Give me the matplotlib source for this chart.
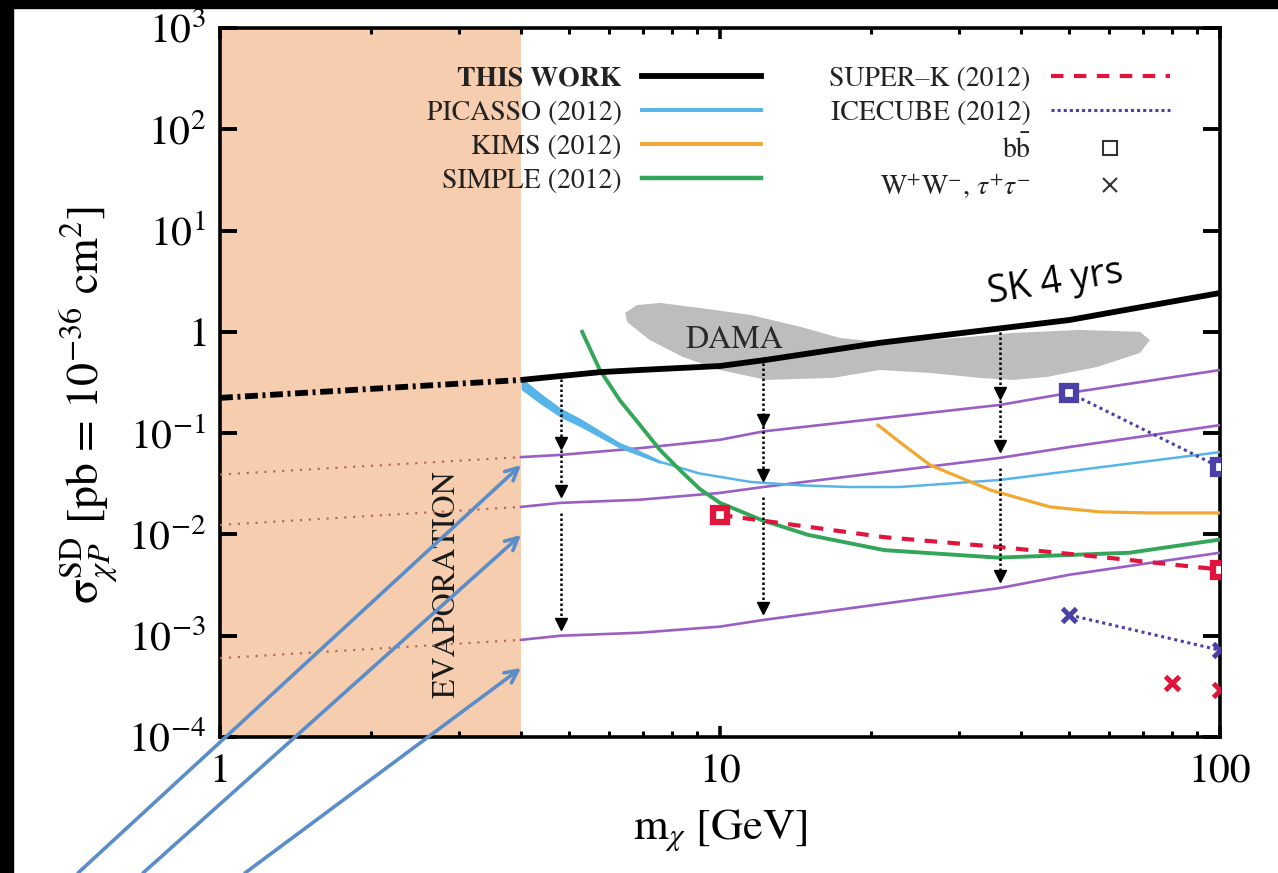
import numpy as np
import matplotlib
matplotlib.use("Agg")
import matplotlib.pyplot as plt
from matplotlib.lines import Line2D
from matplotlib.patches import Rectangle
from matplotlib.ticker import FixedLocator, FixedFormatter, NullLocator, LogLocator, NullFormatter

plt.rcParams['font.family'] = ['STIXGeneral', 'DejaVu Serif']
plt.rcParams['mathtext.fontset'] = 'stix'

# ---------------- data ----------------
evap_limit = 4.0  # GeV, below this WIMPs evaporate from the Sun

# this work (solid) and its extrapolation into the evaporation region
this_work_m = [4, 5.75, 6.9, 10, 12.4, 20.9, 38.5, 50, 100]
this_work_s = [0.335, 0.40, 0.42, 0.46, 0.53, 0.78, 1.12, 1.31, 2.42]
this_work_evap_m = [1, 4]
this_work_evap_s = [0.223, 0.335]

# projected sensitivities (purple)
proj_m = [4, 4.8, 6.9, 10, 12.2, 36.3, 50, 100]
proj_high = [0.058, 0.061, 0.071, 0.086, 0.104, 0.19, 0.25, 0.42]
proj_mid = [0.0187, 0.0205, 0.022, 0.0257, 0.0294, 0.057, 0.073, 0.12]
proj_low = [9.1e-4, 1.0e-3, 1.07e-3, 1.23e-3, 1.43e-3, 2.96e-3, 4.0e-3, 6.6e-3]
proj_evap_m = [1, 4]
proj_evap_high = [0.039, 0.058]
proj_evap_mid = [0.0124, 0.0187]
proj_evap_low = [6.0e-4, 9.1e-4]
arrow_masses = [4.8, 12.2, 36.3]

# PICASSO (2012)
picasso_m = [4, 4.37, 4.8, 5.25, 6.3, 6.9, 7.6, 9.1, 11.5, 14.5, 18.2, 22.9, 36.3, 57.5, 100]
picasso_s = [0.34, 0.24, 0.17, 0.135, 0.078, 0.065, 0.052, 0.040, 0.033, 0.0305,
             0.0294, 0.0294, 0.0345, 0.046, 0.065]
picasso_band_m = [4, 4.37, 4.8, 5.25, 6.3, 7.6]
picasso_band_lo = [0.27, 0.195, 0.143, 0.116, 0.071, 0.050]

# KIMS (2012)
kims_m = [20.7, 23, 26.3, 30, 34.7, 40, 45.7, 57.5, 72.4, 100]
kims_s = [0.12, 0.080, 0.0485, 0.037, 0.0275, 0.0225, 0.0187, 0.0167, 0.0163, 0.0163]

# SIMPLE (2012)
simple_m = [5.3, 5.75, 6.31, 6.92, 7.59, 8.32, 9.12, 10, 12.1, 15, 21.3, 36, 66, 100]
simple_s = [1.0, 0.42, 0.21, 0.12, 0.068, 0.043, 0.028, 0.0205, 0.0139, 0.0099,
            0.0070, 0.0059, 0.0066, 0.0089]

# SUPER-K (2012)
sk_bb_m = [10, 21.3, 36.3, 57.5, 100]
sk_bb_s = [0.0156, 0.0094, 0.0075, 0.0060, 0.0045]
sk_ww_m = [80, 100]
sk_ww_s = [3.4e-4, 2.9e-4]

# ICECUBE (2012)
ic_bb_m = [50, 100]
ic_bb_s = [0.25, 0.046]
ic_ww_m = [50, 100]
ic_ww_s = [1.6e-3, 7.2e-4]

# DAMA allowed region (closed contour)
dama_m = [6.46, 6.82, 7.59, 9.12, 11.5, 14.5, 17.4, 20.9, 26.3, 33.1, 38.5, 52.5, 69.2, 72.4,
          69.2, 56.8, 45.1, 38.5, 33.1, 26.3, 20.9, 16.8, 12.4, 10, 8.43, 7.24, 6.52]
dama_s = [1.54, 1.84, 1.93, 1.72, 1.47, 1.12, 0.87, 0.79, 0.83, 0.91, 0.975, 1.045, 1.0, 0.83,
          0.62, 0.45, 0.359, 0.335, 0.351, 0.393, 0.42, 0.351, 0.335, 0.42, 0.565, 0.83, 1.25]

y_ticks = [1e-4, 1e-3, 1e-2, 1e-1, 1, 1e1, 1e2, 1e3]
y_tick_labels = ['$10^{-4}$', '$10^{-3}$', '$10^{-2}$', '$10^{-1}$', '$1$',
                 '$10^{1}$', '$10^{2}$', '$10^{3}$']
x_ticks = [1, 10, 100]
x_tick_labels = ['1', '10', '100']

# ---------------- colours ----------------
C_EVAP = '#F6CEAF'
C_PICASSO = '#56B4E9'
C_KIMS = '#F0A830'
C_SIMPLE = '#33A65A'
C_PROJ = '#9A5EC4'
C_PROJ_EVAP = '#B66A5E'
C_SK = '#E0143C'
C_IC = '#4B3FA8'
C_DAMA = '#BDBDBD'
C_NOTE = '#5B8DC8'


def loginterp(x, xs, ys):
    return 10 ** np.interp(np.log10(x), np.log10(xs), np.log10(ys))


fig = plt.figure(figsize=(12.78, 8.73), dpi=100)
fig.patch.set_facecolor('white')
ax = fig.add_axes([220 / 1278, 1 - 737 / 873, 1000 / 1278, 709 / 873])
ax.set_xscale('log')
ax.set_yscale('log')
ax.set_xlim(1, 100)
ax.set_ylim(1e-4, 1e3)

# evaporation region
ax.axvspan(1, evap_limit, color=C_EVAP, lw=0, zorder=0)
ax.text(2.84, 3.2e-3, 'EVAPORATION', rotation=90, ha='center', va='center',
        fontsize=23, color='#1a1a1a', zorder=3)

# DAMA
ax.fill(dama_m, dama_s, color=C_DAMA, lw=0, zorder=1)
ax.text(10.7, 0.83, 'DAMA', ha='center', va='center', fontsize=23, color='#2a2a2a', zorder=2)

# projected sensitivities
for lvl_s, ev_s in [(proj_high, proj_evap_high), (proj_mid, proj_evap_mid), (proj_low, proj_evap_low)]:
    ax.plot(proj_m, lvl_s, color=C_PROJ, lw=1.9, zorder=4)
    ax.plot(proj_evap_m, ev_s, color=C_PROJ_EVAP, lw=1.6, ls=(0, (1, 3)), zorder=4)

# direct detection limits
ax.fill_between(picasso_band_m, picasso_band_lo,
                loginterp(np.array(picasso_band_m), picasso_m, picasso_s),
                color=C_PICASSO, lw=0, zorder=4)
ax.plot(picasso_m, picasso_s, color=C_PICASSO, lw=1.8, zorder=4)
ax.plot(kims_m, kims_s, color=C_KIMS, lw=2.3, zorder=4)
ax.plot(simple_m, simple_s, color=C_SIMPLE, lw=2.8, zorder=4)

# neutrino telescopes
ax.plot(sk_bb_m, sk_bb_s, color=C_SK, lw=3, ls=(0, (3, 2.5)), zorder=5)
ax.plot([sk_bb_m[0], sk_bb_m[-1]], [sk_bb_s[0], sk_bb_s[-1]], ls='none', marker='s', ms=10,
        mfc='white', mec=C_SK, mew=4.5, zorder=6)
ax.plot(sk_ww_m, sk_ww_s, ls='none', marker='x', ms=10, mec=C_SK, mew=3.5, zorder=6)
ax.plot(ic_bb_m, ic_bb_s, color=C_IC, lw=2.2, ls=(0, (1, 1.2)), zorder=5)
ax.plot(ic_bb_m, ic_bb_s, ls='none', marker='s', ms=10, mfc='white', mec=C_IC, mew=4.5, zorder=6)
ax.plot(ic_ww_m, ic_ww_s, color=C_IC, lw=2.2, ls=(0, (1, 1.2)), zorder=5)
ax.plot(ic_ww_m, ic_ww_s, ls='none', marker='x', ms=10, mec=C_IC, mew=3.5, zorder=6)

# this work
ax.plot(this_work_m, this_work_s, color='black', lw=4.2, zorder=7, solid_capstyle='butt')
ax.plot(this_work_evap_m, this_work_evap_s, color='black', lw=4.2, zorder=7,
        ls=(0, (2.2, 0.8, 0.5, 0.8)))

# improvement arrows between the curves
for m in arrow_masses:
    top = loginterp(m, this_work_m, this_work_s)
    hi = loginterp(m, proj_m, proj_high)
    mid = loginterp(m, proj_m, proj_mid)
    lo = loginterp(m, proj_m, proj_low)
    for start, end in [(top * 0.93, hi * 1.3), (hi * 1.12, mid * 1.3), (mid * 0.8, lo * 1.3)]:
        ax.plot([m, m], [start, end], color='black', lw=1.8, ls=(0, (1, 1)), zorder=8)
        ax.plot(m, end, ls='none', marker='v', ms=8, color='black', zorder=8)

# axes styling
for sp in ax.spines.values():
    sp.set_linewidth(2.6)
ax.yaxis.set_major_locator(FixedLocator(y_ticks))
ax.yaxis.set_major_formatter(FixedFormatter(y_tick_labels))
ax.yaxis.set_minor_locator(NullLocator())
ax.xaxis.set_major_locator(FixedLocator(x_ticks))
ax.xaxis.set_major_formatter(FixedFormatter(x_tick_labels))
ax.xaxis.set_minor_locator(LogLocator(base=10, subs=np.arange(2, 10)))
ax.xaxis.set_minor_formatter(NullFormatter())
ax.tick_params(axis='y', which='major', direction='in', length=12, width=2.8,
               right=True, labelsize=30, pad=10)
ax.tick_params(axis='x', which='major', direction='in', length=8, width=2.6,
               top=True, labelsize=30, pad=12)
ax.tick_params(axis='x', which='minor', direction='in', length=4.5, width=2.2, top=True)

ax.set_xlabel(r'm$_\chi$ [GeV]', fontsize=32)
ax.xaxis.set_label_coords(0.5, -0.131)
ax.xaxis.label.set_va('center')
ax.set_ylabel(r'σ$^{\rm SD}_{\chi P}$ [pb = 10$^{-36}$ cm$^2$]', fontsize=33)
ax.yaxis.set_label_coords(-0.13, 0.468)
ax.yaxis.label.set_va('center')

# legend
handles = [
    Line2D([], [], color='black', lw=4.2),
    Line2D([], [], color=C_PICASSO, lw=2.8),
    Line2D([], [], color=C_KIMS, lw=2.8),
    Line2D([], [], color=C_SIMPLE, lw=3.2),
    Line2D([], [], color=C_SK, lw=3, ls=(0, (3, 2.5))),
    Line2D([], [], color=C_IC, lw=2.2, ls=(0, (1, 1))),
    Line2D([], [], ls='none', marker='s', ms=10, mfc='white', mec='#333333', mew=1.5),
    Line2D([], [], ls='none', marker='x', ms=10, mec='#333333', mew=1.5),
]
labels = ['THIS WORK', 'PICASSO (2012)', 'KIMS (2012)', 'SIMPLE (2012)',
          'SUPER–K (2012)', 'ICECUBE (2012)', r'b$\bar{\rm b}$', r'W$^{+}$W$^{-}$, $\tau^{+}\tau^{-}$']
leg = ax.legend(handles, labels, ncol=2, loc='upper right', bbox_to_anchor=(0.95, 0.946),
                frameon=False, markerfirst=False, fontsize=20, handlelength=4.3,
                handletextpad=0.72, columnspacing=2.45, labelspacing=0.31,
                borderpad=0, borderaxespad=0)
leg.get_texts()[0].set_fontweight('bold')
for t in leg.get_texts():
    t.set_color('#222222')

# annotation
ax.text(46.8, 3.04, 'SK 4 yrs', rotation=9, ha='center', va='center', fontsize=27,
        family=['Open Sans', 'DejaVu Sans'], color='black', zorder=9)
for tip, tail_x in [(0.0485, 78 / 1278), (0.0099, 143 / 1278), (4.8e-4, 245 / 1278)]:
    ax.annotate('', xy=(evap_limit, tip), xycoords='data',
                xytext=(tail_x, 0.0), textcoords='figure fraction',
                annotation_clip=False,
                arrowprops=dict(arrowstyle='->,head_length=0.9,head_width=0.45',
                                color=C_NOTE, lw=2.6, shrinkA=0, shrinkB=0),
                zorder=10)

# slide border
fig.patches.append(Rectangle((0, 1 - 8 / 873), 1, 8 / 873, transform=fig.transFigure,
                             color='black', zorder=20))
fig.patches.append(Rectangle((0, 0), 13 / 1278, 1, transform=fig.transFigure,
                             color='black', zorder=20))

fig.savefig('out.png', dpi=100, facecolor='white')
